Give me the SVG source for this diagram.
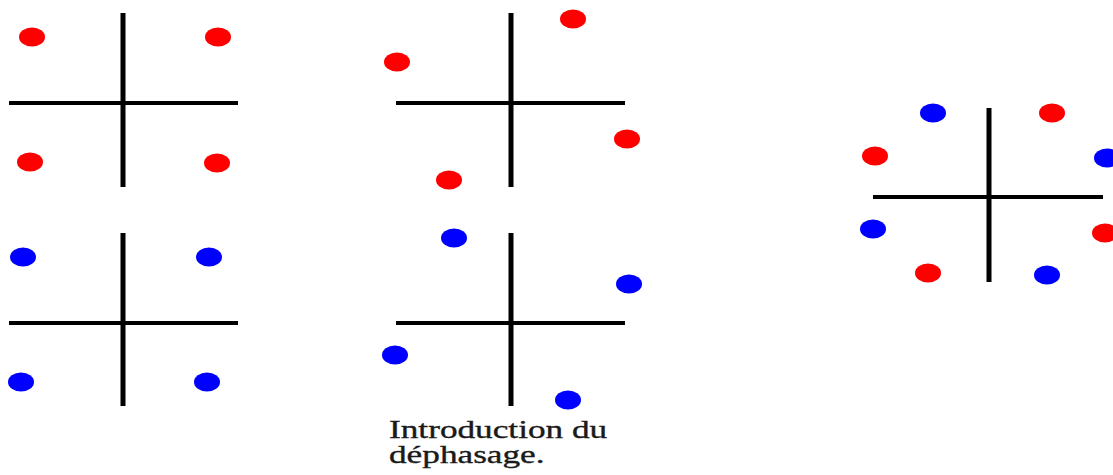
<svg xmlns="http://www.w3.org/2000/svg" width="1113" height="475" viewBox="0 0 1113 475">
<style>
.h{stroke:#000;stroke-width:4}
.v{stroke:#000;stroke-width:5}
.r{fill:#ff0000}
.b{fill:#0000ff}
.t{font-family:"Liberation Serif",serif;font-size:25px;fill:#1a1a1a;stroke:#1a1a1a;stroke-width:0.35}
</style>
<rect width="1113" height="475" fill="#fff"/>
<g id="panel-red-square">
<line class="h" x1="9" y1="103" x2="238" y2="103"/>
<line class="v" x1="123" y1="13" x2="123" y2="187"/>
<ellipse class="r" cx="32" cy="37" rx="13" ry="9.5"/>
<ellipse class="r" cx="218" cy="37" rx="13" ry="9.5"/>
<ellipse class="r" cx="30" cy="162" rx="13" ry="9.5"/>
<ellipse class="r" cx="217" cy="163" rx="13" ry="9.5"/>
</g>
<g id="panel-blue-square">
<line class="h" x1="9" y1="323" x2="238" y2="323"/>
<line class="v" x1="123" y1="233" x2="123" y2="406"/>
<ellipse class="b" cx="23" cy="257" rx="13" ry="9.5"/>
<ellipse class="b" cx="209" cy="257" rx="13" ry="9.5"/>
<ellipse class="b" cx="21" cy="382" rx="13" ry="9.5"/>
<ellipse class="b" cx="207" cy="382" rx="13" ry="9.5"/>
</g>
<g id="panel-red-rotated">
<line class="h" x1="396" y1="103" x2="625" y2="103"/>
<line class="v" x1="511" y1="13" x2="511" y2="187"/>
<ellipse class="r" cx="573" cy="19" rx="13" ry="9.5"/>
<ellipse class="r" cx="397" cy="62" rx="13" ry="9.5"/>
<ellipse class="r" cx="627" cy="139" rx="13" ry="9.5"/>
<ellipse class="r" cx="449" cy="180" rx="13" ry="9.5"/>
</g>
<g id="panel-blue-rotated">
<line class="h" x1="396" y1="323" x2="625" y2="323"/>
<line class="v" x1="511" y1="233" x2="511" y2="406"/>
<ellipse class="b" cx="454" cy="238" rx="13" ry="9.5"/>
<ellipse class="b" cx="629" cy="284" rx="13" ry="9.5"/>
<ellipse class="b" cx="395" cy="355" rx="13" ry="9.5"/>
<ellipse class="b" cx="568" cy="400" rx="13" ry="9.5"/>
</g>
<g id="caption">
<text class="t" transform="translate(389,438) scale(1.41,1)">Introduction du</text>
<text class="t" transform="translate(389,463) scale(1.41,1)">déphasage.</text>
</g>
<g id="panel-combined">
<line class="h" x1="873" y1="197" x2="1103" y2="197"/>
<line class="v" x1="989" y1="108" x2="989" y2="282"/>
<ellipse class="b" cx="933" cy="113" rx="13" ry="9.5"/>
<ellipse class="r" cx="1052" cy="113" rx="13" ry="9.5"/>
<ellipse class="r" cx="875" cy="156" rx="13" ry="9.5"/>
<ellipse class="b" cx="1107" cy="158" rx="13" ry="9.5"/>
<ellipse class="b" cx="873" cy="229" rx="13" ry="9.5"/>
<ellipse class="r" cx="1105" cy="233" rx="13" ry="9.5"/>
<ellipse class="r" cx="928" cy="273" rx="13" ry="9.5"/>
<ellipse class="b" cx="1047" cy="275" rx="13" ry="9.5"/>
</g>
</svg>
